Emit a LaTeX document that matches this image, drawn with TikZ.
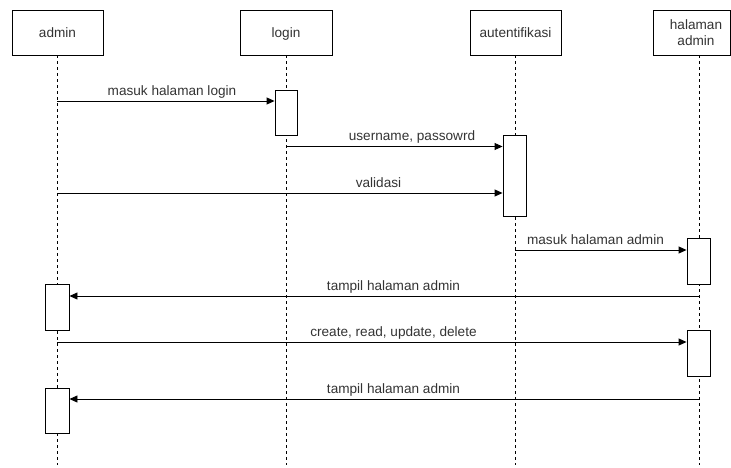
\documentclass[tikz,border=0pt]{standalone}
\usepackage{fontspec}
\setmainfont{Liberation Sans}
\usetikzlibrary{arrows.meta}
\definecolor{txt}{HTML}{333333}
\begin{document}
\begin{tikzpicture}[x=1pt,y=-1pt,
  header/.style={draw=black,line width=0.9pt,fill=white,minimum width=91pt,minimum height=45pt,inner sep=0pt,
    font=\fontsize{13.6}{16}\selectfont,text=txt,text height=10pt,text depth=0pt},
  actbox/.style={draw=black,line width=0.9pt,fill=white,minimum width=23pt,inner sep=0pt},
  lifeline/.style={line width=0.8pt,dash pattern=on 3pt off 3pt},
  msg/.style={line width=0.9pt,-{Triangle[length=8pt,width=7pt]}},
  lbl/.style={font=\fontsize{13.6}{16}\selectfont,text=txt,anchor=base,inner sep=0pt}
]
\useasboundingbox (0,0) rectangle (731,467);
% headers
\node[header] (admin) at (57.5,32.5) {admin};
\node[header,minimum width=92pt] (login) at (286,32.5) {login};
\node[header] (aut) at (515.5,32.5) {autentifikasi};
\node[header,minimum width=77pt] (hal) at (691.5,32.5) {};
\node[font=\fontsize{13.6}{16}\selectfont,text=txt,align=center,inner sep=0pt] (haltxt) at (696,33) {halaman\\admin};
% lifeline ends
\coordinate (adminEnd) at (57,465);
\coordinate (loginEnd) at (286,465);
\coordinate (autEnd) at (515,465);
\coordinate (halEnd) at (699,465);
\coordinate (adminTop) at (57,55);
\coordinate (loginTop) at (286,55);
\coordinate (autTop) at (515,55);
\coordinate (halTop) at (699,55);
\draw[lifeline] (adminTop) -- (adminEnd);
\draw[lifeline] (loginTop) -- (loginEnd);
\draw[lifeline] (autTop) -- (autEnd);
\draw[lifeline] (halTop) -- (halEnd);
% activations
\node[actbox,minimum width=22pt,minimum height=45pt] (a1) at (286,112.5) {};
\node[actbox,minimum height=81pt] (a2) at (514.5,175.5) {};
\node[actbox,minimum height=46pt] (a3) at (698.5,261) {};
\node[actbox,minimum width=24pt,minimum height=46pt] (a4) at (57,307) {};
\node[actbox,minimum height=46pt] (a5) at (698.5,353) {};
\node[actbox,minimum width=24pt,minimum height=45pt] (a6) at (57,410.5) {};
% message start points
\coordinate (m1) at (57,101);
\coordinate (m2) at (286,146.5);
\coordinate (m3) at (57,193);
\coordinate (m4) at (515,250);
\coordinate (m5) at (699,296);
\coordinate (m6) at (57,342);
\coordinate (m7) at (699,399);
\draw[msg] (m1) -- (m1 -| a1.west);
\draw[msg] (m2) -- (m2 -| a2.west);
\draw[msg] (m3) -- (m3 -| a2.west);
\draw[msg] (m4) -- (m4 -| a3.west);
\draw[msg] (m5) -- (m5 -| a4.east);
\draw[msg] (m6) -- (m6 -| a5.west);
\draw[msg] (m7) -- (m7 -| a6.east);
% labels
\node[lbl] (l1) at (172,95) {masuk halaman login};
\node[lbl] (l2) at (412,140.5) {username, passowrd};
\node[lbl] (l3) at (378.5,187) {validasi};
\node[lbl] (l4) at (595.5,244) {masuk halaman admin};
\node[lbl] (l5) at (393.5,290) {tampil halaman admin};
\node[lbl] (l6) at (393.5,336) {create, read, update, delete};
\node[lbl] (l7) at (393.5,393) {tampil halaman admin};
\end{tikzpicture}
\end{document}
